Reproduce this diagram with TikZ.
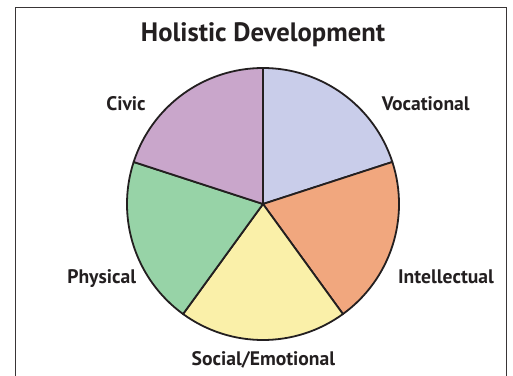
\documentclass[tikz,border=0pt]{standalone}
\usepackage{fontspec}
\setmainfont{PT Sans}
\definecolor{voc}{HTML}{C9CDEA}
\definecolor{intel}{HTML}{F1A77E}
\definecolor{soc}{HTML}{FAF0A9}
\definecolor{phys}{HTML}{97D3A7}
\definecolor{civ}{HTML}{C9A6CB}
\definecolor{ink}{HTML}{231F20}
\begin{document}
\begin{tikzpicture}[x=1pt,y=1pt,
  slice/.style={draw=ink,line width=1.8pt,line join=round},
  lbl/.style={anchor=base,text=ink,font=\bfseries\fontsize{19.6}{22}\selectfont,inner sep=0pt},
  ttl/.style={anchor=base,text=ink,font=\bfseries\fontsize{26.6}{30}\selectfont,inner sep=0pt}]
\useasboundingbox (0,0) rectangle (513,375);
\draw[ink!90,line width=1.4pt] (15.5,-5) -- (15.5,367.5) -- (506.5,367.5) -- (506.5,-5);
\coordinate (c) at (263,171);
\def\R{136}
\filldraw[slice,fill=voc] (c) -- ++(18:\R) arc[start angle=18,end angle=90,radius=\R] -- cycle;
\filldraw[slice,fill=intel] (c) -- ++(-54:\R) arc[start angle=-54,end angle=18,radius=\R] -- cycle;
\filldraw[slice,fill=soc] (c) -- ++(-126:\R) arc[start angle=-126,end angle=-54,radius=\R] -- cycle;
\filldraw[slice,fill=phys] (c) -- ++(162:\R) arc[start angle=162,end angle=234,radius=\R] -- cycle;
\filldraw[slice,fill=civ] (c) -- ++(90:\R) arc[start angle=90,end angle=162,radius=\R] -- cycle;
\node[ttl] (title) at (263,333.3) {Holistic Development};
\node[lbl] (civic) at (126,264) {Civic};
\node[lbl] (vocational) at (425.7,264) {Vocational};
\node[lbl] (intellectual) at (446,91.7) {Intellectual};
\node[lbl] (physical) at (101.7,91.7) {Physical};
\node[lbl] (social) at (263.4,10) {Social/Emotional};
\end{tikzpicture}
\end{document}
